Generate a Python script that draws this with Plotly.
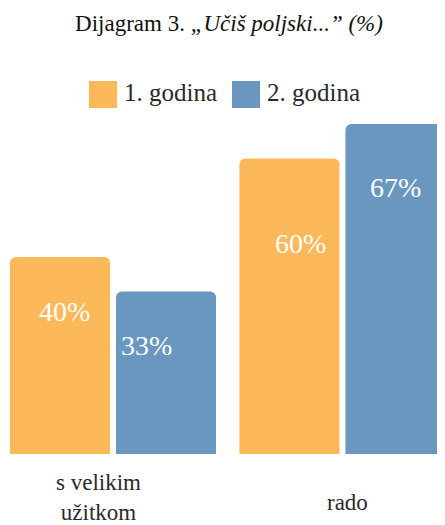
import plotly.graph_objects as go

# ---- data ----
categories = ["s velikim užitkom", "rado"]
category_labels = ["s velikim<br>užitkom", "rado"]
series_names = ["1. godina", "2. godina"]
year1 = [40, 60]
year2 = [33, 67]
title_text = "Dijagram 3. <i>„Učiš poljski...” (%)</i>"

# ---- style ----
OFF = 8  # browser body margin
W, H = 445 - OFF, 525 - OFF
M_L, M_R, M_T, M_B = 10 - OFF, 0, 124 - OFF, 71
colors = ["#FDB85A", "#6A97C0"]
FONT = "Liberation Serif"
bar_width = 0.436
bar_offsets = [-0.449, 0.013]
label_xshift = [[-49, -42], [33, 53]]
label_yshift = [[-55, -85], [-54, -63]]
cat_xshift = [-15, 5]
cat_yshift = [-43, -48]

fig = go.Figure()
for i, (name, vals) in enumerate(zip(series_names, [year1, year2])):
    fig.add_trace(go.Bar(
        x=categories, y=vals, name=name,
        marker=dict(color=colors[i], line=dict(width=0)),
        width=bar_width, offset=bar_offsets[i],
        showlegend=False, hoverinfo="skip",
    ))
    for j, v in enumerate(vals):
        fig.add_annotation(
            x=categories[j], y=v, xref="x", yref="y",
            text=f"{v}%", showarrow=False,
            xshift=label_xshift[i][j], yshift=label_yshift[i][j],
            xanchor="center", yanchor="middle",
            font=dict(family=FONT, size=28, color="white"),
        )

for k, (c, lab) in enumerate(zip(categories, category_labels)):
    fig.add_annotation(
        x=c, y=0, xref="x", yref="y", text=lab, showarrow=False,
        xshift=cat_xshift[k], yshift=cat_yshift[k], xanchor="center", yanchor="middle",
        font=dict(family=FONT, size=23, color="#2a2a2a"),
    )

pw, ph = W - M_L - M_R, H - M_T - M_B
def px(xp):
    return (xp - OFF - M_L) / pw
def py(yp):
    return (H - M_B - (yp - OFF)) / ph

legend_sq_left = [89, 232]
for i, name in enumerate(series_names):
    x0 = legend_sq_left[i]
    fig.add_shape(type="rect", xref="paper", yref="paper",
                  x0=px(x0), x1=px(x0 + 28), y0=py(108), y1=py(81),
                  fillcolor=colors[i], line=dict(width=0))
    fig.add_annotation(x=px(x0 + 33), y=py(92), xref="paper", yref="paper",
                       text=name, showarrow=False, xanchor="left", yanchor="middle",
                       font=dict(family=FONT, size=25, color="#2a2a2a"))

fig.update_layout(
    width=W, height=H,
    margin=dict(l=M_L, r=M_R, t=M_T, b=M_B),
    paper_bgcolor="white", plot_bgcolor="white",
    font=dict(family=FONT),
    barcornerradius=6,
    title=dict(text=title_text, x=px(229), xref="paper", xanchor="center",
               y=1 - (23 - OFF) / H, yref="container", yanchor="middle",
               font=dict(family=FONT, size=23, color="#111111")),
    xaxis=dict(type="category", range=[-0.449, 1.447], showticklabels=False,
               showgrid=False, zeroline=False, showline=False, ticks=""),
    yaxis=dict(range=[0, 67], visible=False),
    showlegend=False,
)

fig.write_html("out.html")
